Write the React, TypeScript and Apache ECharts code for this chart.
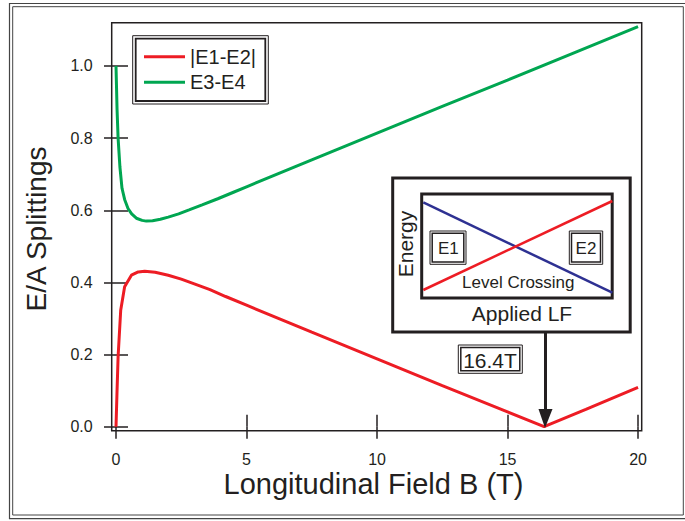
import React, { useEffect, useRef } from "react";
import * as echarts from "echarts";

// ---- data ----
const redX = [0, 0.04, 0.08, 0.18, 0.33, 0.59, 0.85, 1.1, 1.5, 2.0, 2.5, 3.0, 3.6, 4.2, 5, 7.5, 10, 12.5, 15, 16.4, 18, 20];
const redY = [0, 0.1, 0.194, 0.323, 0.388, 0.42, 0.429, 0.431, 0.428, 0.42, 0.409, 0.396, 0.38, 0.361, 0.337, 0.262, 0.188, 0.114, 0.041, 0, 0.048, 0.109];
const greenX = [0, 0.02, 0.04, 0.08, 0.15, 0.23, 0.33, 0.46, 0.6, 0.78, 1.0, 1.16, 1.4, 1.7, 2.0, 2.4, 2.8, 3.3, 3.9, 4.5, 5, 7.5, 10, 12.5, 15, 17.5, 20];
const greenY = [1.0, 0.94, 0.88, 0.8, 0.72, 0.661, 0.63, 0.605, 0.59, 0.578, 0.572, 0.57, 0.571, 0.575, 0.581, 0.59, 0.601, 0.615, 0.632, 0.65, 0.665, 0.74, 0.814, 0.888, 0.961, 1.035, 1.109];
const xTicks = [0, 5, 10, 15, 20];
const yTicks = [0, 0.2, 0.4, 0.6, 0.8, 1.0];
const seriesNames = ["|E1-E2|", "E3-E4"];
const seriesColors = ["#ed1c24", "#00a651"];

const INK = "#231f20";
const FONT = "'Liberation Sans', Arial, Helvetica, sans-serif";

function doubleBox(x1: number, y1: number, x2: number, y2: number, gap: number, w1: number, w2: number, fill = "#fff") {
  return [
    { type: "rect", shape: { x: x1, y: y1, width: x2 - x1, height: y2 - y1 }, style: { fill, stroke: INK, lineWidth: w1 }, z: 10 },
    { type: "rect", shape: { x: x1 + gap, y: y1 + gap, width: x2 - x1 - 2 * gap, height: y2 - y1 - 2 * gap }, style: { fill: "none", stroke: INK, lineWidth: w2 }, z: 11 },
  ];
}

function txt(text: string, x: number, y: number, size: number, rotation = 0) {
  return {
    type: "text",
    x,
    y,
    rotation,
    z: 20,
    style: { text, fill: INK, font: `${size}px ${FONT}`, align: "center", verticalAlign: "middle" },
  };
}

export default function App() {
  const ref = useRef<HTMLDivElement>(null);
  useEffect(() => {
    if (!ref.current) return;
    const chart = echarts.init(ref.current, undefined, { renderer: "svg" });
    const mkX = (pos: "bottom" | "top", labels: boolean) => ({
      type: "value",
      position: pos,
      min: -0.165,
      max: 20.14,
      axisLine: { show: false },
      splitLine: { show: false },
      axisTick: { show: true, inside: false, length: 12, lineStyle: { color: INK, width: 1.5 }, customValues: xTicks },
      axisLabel: labels
        ? { show: true, customValues: xTicks, margin: 21, fontSize: 16, color: INK, fontFamily: FONT }
        : { show: false },
    });
    const mkY = (pos: "left" | "right", labels: boolean) => ({
      type: "value",
      position: pos,
      min: -0.011,
      max: 1.12,
      axisLine: { show: false },
      splitLine: { show: false },
      axisTick: { show: true, inside: false, length: 12, lineStyle: { color: INK, width: 1.5 }, customValues: yTicks },
      axisLabel: labels
        ? { show: true, customValues: yTicks, margin: 19, fontSize: 16, color: INK, fontFamily: FONT, formatter: (v: number) => v.toFixed(1) }
        : { show: false },
    });
    const option: any = {
      animation: false,
      backgroundColor: "#fff",
      grid: { left: 111.7, top: 22.7, width: 530, height: 408, show: true, borderColor: INK, borderWidth: 1.5, backgroundColor: "transparent" },
      xAxis: [mkX("bottom", true), mkX("top", false)],
      yAxis: [mkY("left", true), mkY("right", false)],
      legend: {
        data: seriesNames,
        orient: "vertical",
        left: 144,
        top: 46.7,
        padding: 0,
        itemGap: 5.6,
        itemWidth: 41,
        itemHeight: 3,
        icon: "rect",
        z: 30,
        textStyle: { fontSize: 20, lineHeight: 20, color: INK, fontFamily: FONT },
      },
      series: [
        {
          name: seriesNames[0],
          type: "line",
          data: redX.map((x, i) => [x, redY[i]]),
          symbol: "none",
          showSymbol: false,
          lineStyle: { color: seriesColors[0], width: 3 },
          itemStyle: { color: seriesColors[0] },
          z: 3,
        },
        {
          name: seriesNames[1],
          type: "line",
          data: greenX.map((x, i) => [x, greenY[i]]),
          symbol: "none",
          showSymbol: false,
          lineStyle: { color: seriesColors[1], width: 3 },
          itemStyle: { color: seriesColors[1] },
          z: 3,
        },
      ],
      graphic: [
        // page border
        { type: "rect", shape: { x: 9.5, y: 3.5, width: 682, height: 515.2 }, style: { fill: "none", stroke: "#444", lineWidth: 1.2 }, z: 5 },
        { type: "rect", shape: { x: 12.7, y: 6.7, width: 670.6, height: 508.3 }, style: { fill: "none", stroke: "#444", lineWidth: 1 }, z: 5 },
        // legend frame
        ...doubleBox(132.7, 35.7, 268.3, 104, 3, 1, 1.8),
        // axis titles
        txt("Longitudinal Field B (T)", 373.5, 483.5, 29),
        txt("E/A Splittings", 36, 229, 28, Math.PI / 2),
        // inset
        { type: "rect", shape: { x: 392.7, y: 178, width: 237.5, height: 154 }, style: { fill: "#fff", stroke: INK, lineWidth: 3 }, z: 10 },
        { type: "rect", shape: { x: 421.7, y: 194, width: 190.5, height: 104 }, style: { fill: "#fff", stroke: INK, lineWidth: 3 }, z: 11 },
        { type: "line", shape: { x1: 423.3, y1: 202.3, x2: 612.3, y2: 292.7 }, style: { stroke: "#2e3192", lineWidth: 2.5 }, z: 12 },
        { type: "line", shape: { x1: 423.3, y1: 290, x2: 612.3, y2: 201 }, style: { stroke: "#ed1c24", lineWidth: 2.5 }, z: 12 },
        ...doubleBox(430, 231, 466, 264.3, 2.2, 1, 1.5).map((e) => ({ ...e, z: 13 })),
        ...doubleBox(569.3, 231, 602.7, 264.3, 2.2, 1, 1.5).map((e) => ({ ...e, z: 13 })),
        txt("E1", 448.3, 248.3, 17),
        txt("E2", 586, 248.3, 17),
        txt("Level Crossing", 518.3, 282.3, 17),
        txt("Energy", 405.7, 244, 21, Math.PI / 2),
        txt("Applied LF", 522, 313.7, 21),
        // arrow
        { type: "line", shape: { x1: 545.5, y1: 332, x2: 545.5, y2: 412 }, style: { stroke: INK, lineWidth: 3 }, z: 12 },
        { type: "polygon", shape: { points: [[538.5, 409], [552.5, 409], [545, 428]] }, style: { fill: INK }, z: 12 },
        // 16.4T label
        ...doubleBox(458.3, 345, 522.3, 373.3, 2.5, 1, 1.5),
        txt("16.4T", 490, 360.2, 21),
      ],
    };
    chart.setOption(option);
    return () => chart.dispose();
  }, []);
  return <div ref={ref} style={{ position: "fixed", left: 0, top: 0, width: 685, height: 521 }} />;
}
